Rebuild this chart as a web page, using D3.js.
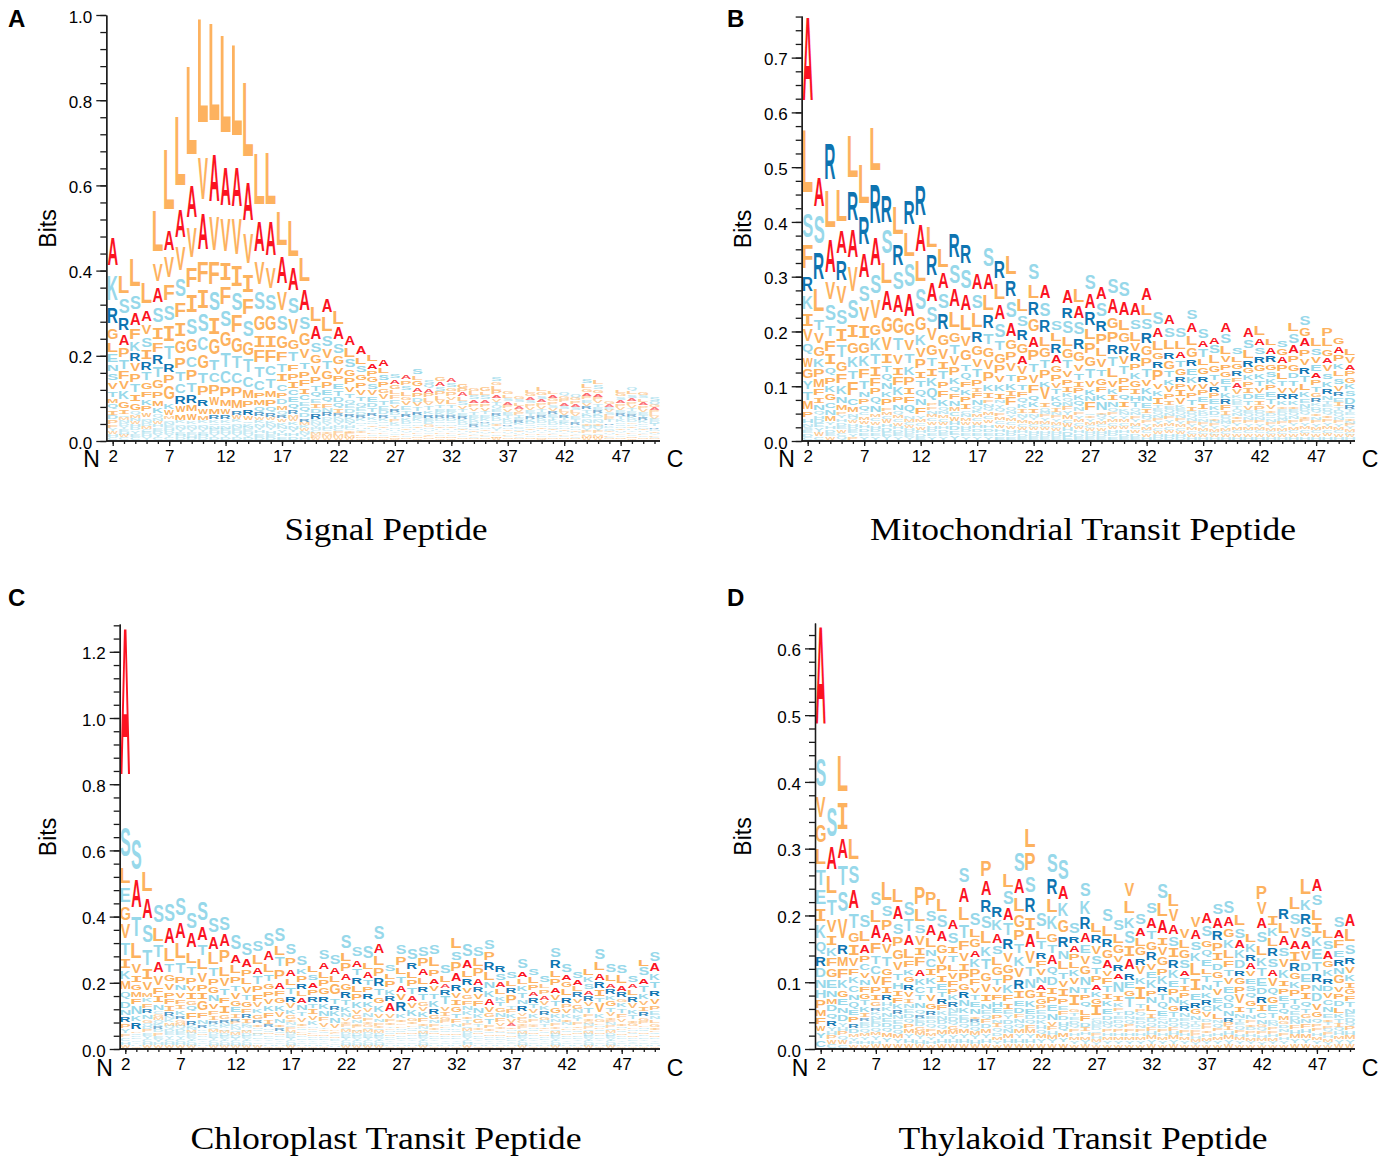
<!DOCTYPE html>
<html><head><meta charset="utf-8">
<script src="https://cdn.jsdelivr.net/npm/d3@7/dist/d3.min.js"></script>
<style>html,body{margin:0;padding:0;background:#fff}svg{display:block}</style>
</head><body><svg id="c" width="1390" height="1156"></svg>
<script>
// Column heights in milli-bits, positions 2..50
const signalTops=[477,386,425,373,537,682,759,877,989,981,950,928,840,674,676,537,514,430,313,334,303,248,220,201,191,158,154,167,142,149,146,134,125,125,149,117,105,120,125,117,113,109,146,140,91,120,125,115,102];
const mitoTops=[773,482,542,457,555,505,571,446,426,438,467,392,350,378,357,305,351,327,337,257,323,284,219,275,275,305,281,297,291,252,279,236,230,206,239,204,189,215,169,206,210,188,183,214,228,186,204,189,168];
const chloroTops=[1275,634,536,435,438,455,410,445,398,398,342,317,327,350,365,319,284,251,299,284,342,309,307,368,254,312,302,309,317,254,336,317,309,329,254,234,271,244,221,307,257,234,242,304,257,252,221,271,294];
const thylaTops=[633,362,438,315,199,234,250,239,220,243,235,224,193,270,203,282,213,262,293,329,203,292,285,188,248,188,208,193,247,203,219,248,232,179,198,203,217,221,201,171,244,198,209,227,256,254,178,198,201];
// Letter stacks, top-down: letter + height in milli-bits; letters after | are the tiny ones sharing the remainder
const signalStacks=["A88K78R47G35L27E23N21S22V20T17M14Q14I12D11P10F9|YWHC","L54S45R37A34P27T27F23V23K23G20I13|QMNDYEHWC","L84S43A35F31K27R23V25P26T23I20G20|QMNWHDYEC","L66A33V30S31I27R26T23G21F18K17P15W12|QNDMCEHY","L125V51A47S47I37F30R27T31G25P22M17K18|QNWHEDYC","L188A63V63F51S47I47T43R25P26G41K16W16|MQNEHDYC","L216A88V74S55F47I45G39P34T29C28R23W19M16|KQNYEHD","L278A98V94F63I55S51G38C35P31T27R23M20W19|KQNYEHD","L326V129A113F66I59S53C42G40T33P29R22W17M14|KQNYEHD","L308A149V104F72S57I53G48T33C27P28W25M17R12|KQNEHYD","L307A121V103I57F55S51G47T47C37P28M21W16R12|KQNEHYD","L285A125V108I62S55F52G45T35C34P30M26R12W10|KQNEHYD","L232A121V95I57F51S51G43T39C33M23P22R16W12|QKNEHYD","L160A94V70S55G47I37F36T34C28P17M17Q14R10|WKNYHED","L162A106V65S48G47I37F36C29T29M20P19Q14R10|WKNYHED","L106A82V55S47G39F27T25I22C22P15D14M13Q10R9|WKNYHE","L109A70S49V47G31T27F22P21I18C17E16Q16R10M8|WKNYHD","L75A64S39G37V29T22P21F20I16C16E13Q14D12R9|MKWNYH","L44A41S27G26V25P20T16Q16E12I12D12R14|KNYHCMFW","A43L43S34V27T25G23P20E16Q16F12N10R10|DKYHCIMW","L39A35S30G25V22P17E17T16D14Q14I10R7|KNYHCFMW","A30L27S23G20P20V17T14Q12E11D10R9K8|NYHCIFMW","A23L21S20G18P18V16T14Q12E10D9R8K7|NYHCIFMW","L19A17P16G16S15V15E14D12T12R9K8|QNIHYFCMW","A19L17S17P16G14V14T12E11D10R8K8|QNIHYFCMW","S14A13G13L12F11E11V9R9D8T8P7K6|QNHYCIMW","A12P13S14L12G10V12E10T9R9K8D7|QNIHYFCMW","S15L12G15A12P13D10V11T11R9E8K7|QNIHYFCMW","S10Q11A10P11L10V9T11K9R9E8D7G6|NHYCIFMW","G11A12S11P10L11V10T9E9K8R7D6|QNIHYFCMW","A10S12G10P10V9L11T9E9K8R7D7|QNIHYFCMW","G12P10A10L10S10V9T8E8R8K7D6|QNIHYFCMW","G10L10S10A9P9V9T8E8K7D7R6|QNIHYFCMW","G11L9S10A8P9V9T8E8K7R5D7|QNIHYFCMW","S12G9L10P11A9V8T9Q8E8R7K7D6|NIHYFCMW","G9L9S8A8P8V8E8T7K7D6R5|QNIHYFCMW","G8S8L8A7V7P7T7E6R6K6D5|QNIHYFCMW","L9G9A8S8P8V8E7T7R6K6D6|QNIHYFCMW","L10G9S9A8P8V8T7E7R6K6D6|QNIHYFCMW","L9A9G8P8S7V7R7E7T7K6D6|QNIHYFCMW","Q8G8P8A8S7L7V7R7T6E6K6|DNIHYFCMW","Q8G8P8A8S7L7V7E7T6R6K5|DNIHYFCMW","S13L11G9A9P8E8V8R8T7K7D6|QNIHYFCMW","L10S10G9A9P8V8T8E7R7K6D6|QNIHYFCMW","G7A6E6V6S6L6P6T6R5K5|DQNIHYFCMW","L9G9S8A8P8V8E7R7T7K6D5|QNIHYFCMW","Q9L9S8A8P8V8T7E7R6K6D6|GNIHYFCMW","G9S8L8A8P8V7E7T7R6K6D5|QNIHYFCMW","S10Q8G7A7P7L6V6E6D6T6R5|KNIHYFCMW"];
const mitoStacks=["A205L153S58F57R35K33I30V27Q23W22G21Y20T18M18P12H10|NSEDC","A72S68R64L55T27V24G23K19P18M18F15I12N14|QHDEYWC","R87L88A79V40S38T26F26I23Q18P17K15G15C13N12M11|YHDEW","L75A53R47V41S37I29T30G24F21K19N16M12|PYHDEWCQ","L100R69A68V61S44I32G27K26T20F32C15M12|NQWHDEYP","L96R67A58S40V35I29G26K24F21T19N14P12Q12|CMWHDEY","L104R95A69S46V43G27K29T24I20F18P15Q17N16|MCWHDEY","R62S57L52A49G38V30I20T16Q16N15K14P16|FMCWHDEY","L66R52S43A40G38T29V23I19F18K18P13N14|QMCWHDEY","R57L58S55A54G29V26T23K20P20I15F15Q21|NMCWHDEY","R73A64L52S52G33K24V21P21I16T17Q17N15F17|YMCWHDE","L51R51A46S38V29G27T18I18K18Q27|PFNMCWHDEY","L43A38S37R38G26V24I18T18P16F17K15|QNMCWHDEY","R57S44A41L37G24T21V21P18K16Q14F12N12|MCWHDEY","R44S47A37L37V26G26T17Q15F14K14P13I12|CNMWHDEY","A37S34L35R26G23V20T19P15I9F12N12|QKMCWHDEY","S44A39L38R33T27G23V22P21K17I12|FNQMCWHDEY","R40L38A35S32T22G23P18V15K17I13|NYQFMCWHDE","L44R38S40A32G21P20V20T17K15I11F18|QNYMCWHDE","L27S27R26G22A19V18P15T14F12Q10K10I8|NYMCWHDE","S38L32R32G29A27P24T20V20F18Q13K12I10|NYMCWHDE","A32S33R28L23G21T19P19K13V27I10|QNFYMCWHDE","S23L19R22A18G16P15V12T12K11Q12I8|NFYMCWHDE","A32R24S29L23G21T18V15P14I12K10|QNFYMCWHDE","L30A28S30R26G21V16T16I12P12K12Q12N8|FYMCWHDE","S37A35R30L24P26G22T21V16K13N12F18|QIYMCWHDE","A30S31R26P24L20V19T17G15F14K14N19|IQYMCWHDE","S37A35G27P24R21T21L21V16K12I12N12|QFYMCWHDE","S37A33L24G23R20V19T18P17F15Q14I13|KNYMCWHDE","A30S24L21V18R18P16K16G15I12H12T12|QNFYMCWDE","A30L26S26R24G21P20T20V15K15N13E11I9|DQFYMCWH","S30A23L22G16R16P25V13K12I15|TEQNFYMCWHD","A23S23L21R17G19T15K13V14P12I10|EQNFYMCWHD","S23L20A15T17G15R12P12I14V14|KEQNFYMCWHD","S23A23L23G22R15E16K15V14P12T14I9|DQNFYMCWH","S21A16T18L15G16R13V13P12E12I12|KDQNFYMCWH","A16S18L18G15T14V10R12P11E11K10D8|QINFYMCWH","A21S21L18V15P14G13E12T13K12R11F11I8|DQNYMCWH","S15L13G14R12F10A11V11|KDETQNIPYMCWH","A23S19L18R14G12K12P12I11D12T10V8|EQNFYMCWH","L23A17S16R15G15K14T13V12E11I10P9|DQNFYMCWH","L17A16R15G14S13K12P12E12T12V9|IDQNFYMCWH","S15G15A15P15L14T12V12R12K10|IEDQNFYMCWH","L19S21A19P16G15D13T14V12R12K10|IEQNFYMCWH","S23G18A19P17V16R16T15L15K12E10N8|DQIFYMCWH","L18S15V15E14A13P12T12G10R9|KDQINFYMCWH","P18L18G17A12V16S14K14R12N10|TEDQIFYMCWH","G17A15P16K14L12S14V12R10E10I8|TDQNFYMCWH","L14V15A12P12G12K12S12D15R8|TEQINFYMCWH"];
const chloroStacks=["A605S121L63E57G53V55T50I35K33M30Q30D25N22R20P17Y16|FCHW","S123A111T79L64V36I27G23M20F22N30K20R25|PQDECYHW","L81A81S71T65I38V30M17K15F18R17N17|GQDPEYCHW","S71L50T50A43V37F25I25N20|CGMQKRDPEYHW","S71A63L50T30G27V26P22F20I18R14|NKMQDEYCHW","S71A65L60T40P25N23V22F18I14K18R12|GMQDEYCHW","S62A56L44T33P25V20I25G15Q20F25R15|KNMDEYCHW","S76A55T40L43V37P25I25G37F20N15R12|KQMDEYCHW","S60A48L45T33P25G25N25V22F17I15R10|KQMDEYCHW","S53A47P48L38V30T27F23I30G15R12|NKQMDEYCHW","S57A33L32P28T22V25G20E20I15R10|FKNQMDYCHW","S46A32P25L25V25T20G22F18R15I14|KNQMDEYCHW","S43L37A28T30P25F25V18K17G17R12I10|NQMDEYCHW","S55A37L33T27G23P23V22K22F20I15R10|NQMDEYCHW","S55L35T35P38A27F20G23K22V18N17I12R10|QMDEYCHW","S45P33A27L27T28R22V18K18G14|INQFMDEYCHW","S40K23P24R23L20A20N23T17V15I12|GQFMDEYCHW","L27S23A22P22R20T18I18V17K15|NGQFMDEYCHW","S38A27L25P25G25R22K23N20F15V15|TIQMDEYCHW","S37A26L24G43T23R17K20N20V15|PIFQMDEYCHW","S52L32P30A28G28R24T20K20N15V12|IFQMDEYCHW","S40A27T26R25L25P24K25V16G14N12|IFQMDEYCHW","S46L27A25T22P21R22K23V14N14F12|IGQMDEYCHW","S51A37L35P33R30T27G23K27V15N12F10|IQMDEYCHW","S27L23P25K20R20A33V15F12I10|TGNQMDEYCHW","S35P31L27T28A25V24R36K17I12|GFNQMDEYCHW","S41R27L25P25T25A20V20K25G12I10|FNQMDEYCHW","S38P30A25L27R23T24G15V15K20F15I10|NQMDEYCHW","S40L35P28A23V22T23K24R21G15N12F10I8|QMDEYCHW","S33L27A15R20T32V16I14G12P10|KFNQMDEYCHW","L42S33P35A30R27V22I21G19T18F15N12|KQMDEYCHW","S50A30L26R24V23G17F18N15K15I12T10|PQMDEYCHW","S38L29P31A25R19V23F20N20K15G15T10I8|QMDEYCHW","S38P30R29L31N24K26A24V20G16T20F12I8|QMDEYCHW","R27S26A19L23K17T18G17N15F15V12I8|PQMDEYCHW","S28L22R20P33T12F15K15V13A10|INGQMDEYCHW","S37A22L20K23T20N18R22V12P12G10I8|FQMDEYCHW","S28L24P20A18R20T15V15K15F10|GINQMDEYCHW","S27L15P18A17V15K15R17G12N10T10|IFQMDEYCHW","S40R31L25P24A23V20T20G20K15N12F10|IQMDEYCHW","S33A22G21L24R23P13V17K13I12N10|TFQMDEYCHW","S25A22L18R18V17G17N13K12T12F10|IPQMDEYCHW","L26K19S20A18R18V17T20F12I10|GNPQMDEYCHW","S43L32A28R24I23T15V35K15G10|FNPQMDEYCHW","S33L25A18R20K17G20T15V14I10|FNPQMDEYCHW","S31L30A20R20G12K18T17F14V12I10|NPQMDEYCHW","S24A18L22R20V18K18T15I10G10|FNPQMDEYCHW","L27S30A22T26K22V17I16R17G12P10|FNQMDEYCHW","S37A30K26T24R23V23P17E15N12L12G10I10|FQMDYCHW"];
const thylaStacks=["A198S57V42G35L32T31E29I24K25Q23R17D17N15H15P15M12F12W10Y11|C","S59A45L34T31V24I18K16F15G17E15N13M10D12Q11R10|YHPWC","L70I53A40T40S40V39R19M18F17K15G13E12N11D13|YHPQWC","L42S34A37T28G18I20V16F13K12C14N11Q12E10P10R8D8|MYHW","S23L20A16P13C12V11N11F10G11T9K10I7R5|EDQMYHW","S26L24A25F20T16C15V15P12I11G8R6K6|NEDQMYHW","L36S21P20A17V17T19G13F15I12R10H8|KNEDQMYW","L26A25S22P17G19V16T14H13I10F11K9R7|NEDQMYW","S26T23A21L18F13K11G11R11V11I8|NEDQPMYHW","P35L22S17V17I16F17A13K13C12T11N11Q8R6|EDGMYHW","P27S22A20L17N14C16I12K13T13V13G11R8|EDQFMYHW","L23S25A20G17V15P15I12E12T10R10F9|KNDQMYHW","A19S20I13T14L13V12F12P10K10R9|NEDQGMYHW","S28A29L27T26F17V15I16P15G12R12N12K10|EDQMYHW","S24L16G15A14K15P15F12V11T10E10N11I6R5|DQMYHW","P31A28R24S24L22K19T20G17V16I13N10|EQFDMYHW","R20K20A19S17L16G15T13V11F11H10E10P8|NIQDMYW","L26S26A23T23R20V18G16P15K15F12I10|EYDQNMHW","S37A30L26G23P20T18K19V17R17I14E11D10|FNQMYHW","L36P35S31R29I26A26V23T18N18G15K12E10|DQFMYHW","S26L16T16R13F12V12N12A10I11G10P8|EDKHQMYW","S38R30L25K26G17T16A17Q16D15I13P14E12N12V8|FHMYW","S41A26K26G24R21N16L16T13V12I15P10E8|FDHQMYW","S20R13A13P12L12K12V12N13I21|GTEDQFHMYW","S27K25R23A18E16V16G15N16T11P11Q11L10F10D8|IHMYW","L18R16V15S16T14P12A11K11G10I20|CNEDQFHMYW","S23L21R16G16A15V11F12T12I10K11E11D8|NQPHMYW","S20L19G15V12R14A11N22I11K8|FTEDQPHMYW","V25L24K22S23I19A20R14E12G11T20D8|NQPFHMYW","S22A15L15G15R13V15K14I26T8|PQEDNFHMYW","S22A21T15G17R15V14E12K15P11N12L12I8|DQFHMYW","S30L26A25I15V16G15P13K15R11T12Q12E11|CNDFHMYW","L24V22A18S18I17R15K15E14P12N12G11T9|DQFHMYW","V17L15G15S15A10T13I10P10K10R10N8|EDQFHMYW","V20A18S17K15L24I22E12R11G10N8|TDQFPHMYW","A20S20G14Q14E14L11T14N11K11R10C10V9D6|PFIHMYW","S20A21R17P16I14D14G12T14V12E11K13L10N6|QFHMYW","S23A19G16K16L15F13T13V12E13Q12D11N11R8|PIHMYW","L21S18A15K15D15R11G12P13V17I11N8|TEQFHMYW","L15K15R12A12V11E11S11Q11G11T11N8|FIDPHMYW","P26V22A20S21L19K15T15E15D12R13I12C10N8|GQFHMYW","I17K16L15R15S16A14V15Q12G13E12T9D6|NPFHMYW","R20L20A18S17V16K16I11P11E11T10Q10M8|GDNFHYW","L24S22V20A16I17R15G12K13P12T11Q9|EDNFHMYW","L32K22R20S20A16V18D16E15P13I13Q11T8|GNFHMYW","A23S22L21I20K19E20T17R16N13D15V13G10Q8|PFHMYW","L16S16A15G12K13R11D11V11C10N10E8I6|TPQFHMYW","S21A15F15E13R13N12G15V11P11D10L10K8|TIQHMYW","A23L23S18R13V13K12I10G10F10T9N8|EDQPHMYW"];
const positions=d3.range(2,51);
const xTickLabels=[2,7,12,17,22,27,32,37,42,47];
const titles=["Signal Peptide","Mitochondrial Transit Peptide","Chloroplast Transit Peptide","Thylakoid Transit Peptide"];
const panelLetters=["A","B","C","D"];
const yMajor=[[0,.2,.4,.6,.8,1],[0,.1,.2,.3,.4,.5,.6,.7],[0,.2,.4,.6,.8,1,1.2],[0,.1,.2,.3,.4,.5,.6]];
const yMinorStep=[.04,.025,.04,.02];
const yMax=[1,.776,1.284,.638];

const layout=[
 {ox:106.3,x2:112.7,x50:654.5,xEnd:660,yBase:441,yTop:15,  tx:386,tw:203,ty:539.5,lx:8,  ly:27, nx:91.5, cx:675,by:467,bitsX:56},
 {ox:801.7,x2:807.7,x50:1350,xEnd:1355,yBase:441,yTop:16, tx:1083,tw:426,ty:539.5,lx:727,ly:27, nx:786.5,cx:1370,by:467,bitsX:751},
 {ox:119.7,x2:125.3,x50:654.8,xEnd:660,yBase:1049,yTop:624,tx:386,tw:391,ty:1148.5,lx:8,  ly:606,nx:104.5,cx:675,by:1076,bitsX:56},
 {ox:815,  x2:820.7,x50:1350,xEnd:1355,yBase:1049,yTop:623,tx:1083,tw:369,ty:1148.5,lx:727,ly:606,nx:800,  cx:1370,by:1076,bitsX:751}
];
const tops=[signalTops,mitoTops,chloroTops,thylaTops];
const stacks=[signalStacks,mitoStacks,chloroStacks,thylaStacks];

const RED="#fb1322",DARK="#0e74b1",LIGHT="#97d8ea",ORANGE="#fdb25f",INK="#1a1a1a";
const colour=a=>a==="A"?RED:a==="R"?DARK:"STKQENDHYC".includes(a)?LIGHT:ORANGE;
const glyphFont=a=>a==="I"?"'Liberation Mono'":"'Liberation Sans'";
const ctx=document.createElement("canvas").getContext("2d");
const inkCache={};
function ink(a){
  if(inkCache[a])return inkCache[a];
  ctx.font=`bold 100px ${glyphFont(a)}`;
  const m=ctx.measureText(a);
  return inkCache[a]={l:m.actualBoundingBoxLeft,r:m.actualBoundingBoxRight,up:m.actualBoundingBoxAscent,dn:m.actualBoundingBoxDescent};
}
function parseStack(s,top){
  const [main,tail=""]=s.split("|");
  const items=[...main.matchAll(/([A-Z])(\d+)/g)].map(m=>({aa:m[1],h:+m[2]}));
  const left=Math.max(0,top-d3.sum(items,d=>d.h));
  tail.split("").forEach(a=>items.push({aa:a,h:left/tail.length}));
  let c=top;
  items.forEach(d=>{d.hi=c/1000;c-=d.h;d.lo=c/1000;});
  return items.filter(d=>d.h>0&&d.hi>0);
}
const svg=d3.select("#c");
const SANS="'Liberation Sans',Arial,sans-serif";
const WIDTH_SHARE=.89, INK_SHARE=.735;
const smallFade=d3.scaleLinear().domain([1.5,7]).range([.42,1]).clamp(true);

layout.forEach((L,i)=>{
  const g=svg.append("g");
  const x=d3.scaleLinear().domain([2,50]).range([L.x2,L.x50]);
  const y=d3.scaleLinear().domain([0,yMax[i]]).range([L.yBase,L.yTop]);
  const step=x(3)-x(2), gw=step*WIDTH_SHARE;
  const clipId="clip"+i;
  g.append("clipPath").attr("id",clipId).append("rect")
    .attr("x",L.ox).attr("y",L.yTop-5).attr("width",L.xEnd-L.ox+5).attr("height",L.yBase-L.yTop+5);
  const logo=g.append("g").attr("clip-path",`url(#${clipId})`);
  const cols=logo.selectAll("g.col").data(positions).join("g").attr("class","col");
  cols.each(function(p,j){
    const items=parseStack(stacks[i][j],tops[i][j]);
    d3.select(this).selectAll("text").data(items).join("text")
      .text(d=>d.aa)
      .attr("font-family",d=>glyphFont(d.aa))
      .attr("font-weight","bold")
      .attr("font-size",100)
      .attr("fill",d=>colour(d.aa))
      .attr("fill-opacity",d=>smallFade(y(d.lo)-y(d.hi)).toFixed(2))
      .attr("transform",d=>{
        const m=ink(d.aa);
        const inkW=m.l+m.r, inkH=m.up+m.dn;
        const boxH=y(d.lo)-y(d.hi);
        const sx=gw/inkW, sy=boxH*INK_SHARE/inkH;
        const tx=x(p)-gw/2+m.l*sx, ty=y(d.hi)+m.up*sy;
        return `translate(${tx.toFixed(2)},${ty.toFixed(2)}) scale(${sx.toFixed(4)},${sy.toFixed(4)})`;
      });
  });

  // Y axis
  const minorVals=d3.range(0,yMax[i]+1e-9,yMinorStep[i]);
  const yMinorAxis=d3.axisLeft(y).tickValues(minorVals).tickSize(6).tickFormat("").tickSizeOuter(0);
  const yAxis=d3.axisLeft(y).tickValues(yMajor[i]).tickSize(10).tickSizeOuter(0).tickFormat(d3.format(".1f"));
  const gy2=g.append("g").attr("transform",`translate(${L.ox},0)`).call(yMinorAxis);
  const gy=g.append("g").attr("transform",`translate(${L.ox},0)`).call(yAxis);
  [gy,gy2].forEach(a=>{a.selectAll("path,line").attr("stroke",INK).attr("stroke-width",1.3);});
  gy.selectAll("text").attr("font-family",SANS).attr("font-size",17).attr("fill","#000").attr("x",-14).attr("dy","0.42em");

  // X axis
  const xMinorAxis=d3.axisBottom(x).tickValues(positions).tickSize(3).tickFormat("").tickSizeOuter(0);
  const xAxis=d3.axisBottom(x).tickValues(xTickLabels).tickSize(5).tickSizeOuter(0).tickFormat(d3.format("d"));
  const gx2=g.append("g").attr("transform",`translate(0,${L.yBase})`).call(xMinorAxis);
  const gx=g.append("g").attr("transform",`translate(0,${L.yBase})`).call(xAxis);
  [gx,gx2].forEach(a=>{a.select("path.domain").attr("d",`M${L.ox},0H${L.xEnd}`);a.selectAll("path,line").attr("stroke",INK).attr("stroke-width",1.3);});
  gx.selectAll("text").attr("font-family",SANS).attr("font-size",17).attr("fill","#000").attr("y",20.5).attr("dy",0);

  const txt=(s,tx,ty,fs,extra={})=>{
    const t=g.append("text").text(s).attr("x",tx).attr("y",ty).attr("font-family",SANS).attr("font-size",fs).attr("fill","#000");
    Object.entries(extra).forEach(([k,v])=>t.attr(k,v));return t;
  };
  txt("N",L.nx,L.by,23,{"text-anchor":"middle"});
  txt("C",L.cx-0,L.by,23,{"text-anchor":"middle"});
  txt(panelLetters[i],L.lx,L.ly,24,{"font-weight":"bold"});
  txt("Bits",0,0,23,{"text-anchor":"middle",transform:`translate(${L.bitsX},${(L.yBase+L.yTop)/2+.5}) rotate(-90)`});
  txt(titles[i],L.tx,L.ty,31,{"text-anchor":"middle","font-family":"'Liberation Serif',serif",textLength:L.tw,lengthAdjust:"spacingAndGlyphs"});
});
</script></body></html>
